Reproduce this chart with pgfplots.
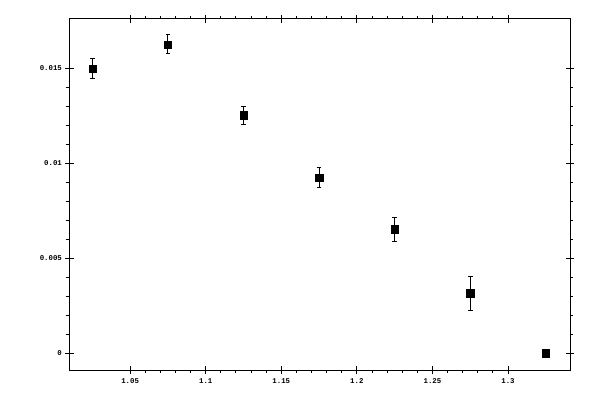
\documentclass[border=0pt]{standalone}
\usepackage{pgfplots}
\pgfplotsset{compat=1.18}
\usepackage{fontspec}
\setmainfont{Liberation Mono}

\begin{document}
\begin{tikzpicture}
  \path[use as bounding box] (-69.7bp,-30bp) rectangle (530.3bp,370bp);
  \pgfplotsset{
    frame/.style={
      at={(0,0)}, anchor=south west, scale only axis,
      width=500.3bp, height=351bp,
      xmin=1.01, xmax=1.341, ymin=-0.00088, ymax=0.0176,
      xtick={1.05,1.1,1.15,1.2,1.25,1.3},
      ytick={0,0.005,0.01,0.015},
      scaled ticks=false,
      axis line style={line width=1bp, black},
      tick style={line width=1bp, black},
      major tick length=4.3bp,
      clip=false,
    }
  }
  % outward ticks, minor ticks and labels
  \begin{axis}[
      frame,
      minor x tick num=4,
      minor y tick num=4,
      minor tick length=3.2bp,
      tick align=outside,
      xticklabels={1.05,1.1,1.15,1.2,1.25,1.3},
      yticklabels={0,0.005,0.01,0.015},
      tick label style={font=\fontsize{7.4}{8}\selectfont\bfseries, black},
      xticklabel style={yshift=-0.5bp},
    ]
    \addplot[only marks, black, mark=square*, mark size=3.65bp,
      error bars/.cd, y dir=both, y explicit,
      error bar style={line width=1bp, black},
      error mark options={rotate=90, mark size=2.35bp, line width=1bp, black}]
    coordinates {
      (1.025,0.01500) +- (0,0.00053)
      (1.075,0.01626) +- (0,0.00050)
      (1.125,0.01253) +- (0,0.00048)
      (1.175,0.00926) +- (0,0.00053)
      (1.225,0.00653) +- (0,0.00063)
      (1.275,0.00316) +- (0,0.00089)
      (1.325,0.00000) +- (0,0)
    };
  \end{axis}
  % inner half of the major ticks
  \begin{axis}[
      frame,
      tick align=inside,
      xticklabels={}, yticklabels={},
    ]
  \end{axis}
\end{tikzpicture}
\end{document}
